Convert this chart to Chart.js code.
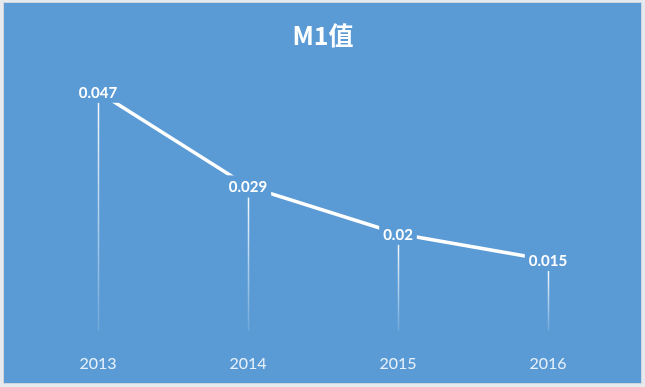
<!DOCTYPE html>
<html>
<head>
<meta charset="utf-8">
<script src="https://cdn.jsdelivr.net/npm/chart.js@4"></script>
<style>
  html, body { margin: 0; padding: 0; background: #e6e9ed; }
  #wrap {
    position: absolute; left: 3px; top: 2px;
    width: 637px; height: 380px;
    background: #5b9bd5;
    border: 1px solid #cfd6de;
  }
  #m1 { display: block; }
</style>
</head>
<body>
<div id="wrap"><canvas id="m1" width="637" height="380"></canvas></div>
<script>
var years = ['2013', '2014', '2015', '2016'];  // categories
var m1Values = [0.047, 0.029, 0.02, 0.015];  // M1值
var valueLabels = ['0.047', '0.029', '0.02', '0.015'];
var bgColor = '#5b9bd5';

// vertical fading drop lines from each point down to the axis
var dropLines = {
    id: 'dropLines',
    beforeDatasetsDraw: function (chart) {
        var ctx = chart.ctx;
        var meta = chart.getDatasetMeta(0);
        var yScale = chart.scales.y;
        var bottom = yScale.getPixelForValue(0) - 8;
        ctx.save();
        meta.data.forEach(function (pt) {
            var top = pt.y + 11;
            var grad = ctx.createLinearGradient(0, top, 0, bottom);
            grad.addColorStop(0, 'rgba(255,255,255,0.95)');
            grad.addColorStop(1, 'rgba(255,255,255,0.12)');
            ctx.strokeStyle = grad;
            ctx.lineWidth = 1.5;
            ctx.beginPath();
            ctx.moveTo(Math.round(pt.x) + 0.5, top);
            ctx.lineTo(Math.round(pt.x) + 0.5, bottom);
            ctx.stroke();
        });
        ctx.restore();
    }
};

// value labels on a box of background colour, centred on the points
var valueTags = {
    id: 'valueTags',
    afterDatasetsDraw: function (chart) {
        var ctx = chart.ctx;
        var meta = chart.getDatasetMeta(0);
        ctx.save();
        ctx.font = 'bold 15px Lato, "Open Sans", sans-serif';
        ctx.textAlign = 'center';
        ctx.textBaseline = 'middle';
        meta.data.forEach(function (pt, i) {
            var txt = valueLabels[i];
            var w = ctx.measureText(txt).width + 8;
            ctx.fillStyle = bgColor;
            ctx.fillRect(pt.x - w / 2, pt.y - 11, w, 22);
            ctx.fillStyle = '#ffffff';
            ctx.fillText(txt, pt.x, pt.y + 1);
        });
        ctx.restore();
    }
};

new Chart(document.getElementById('m1'), {
    type: 'line',
    data: {
        labels: years,
        datasets: [{
            label: 'M1值',
            data: m1Values,
            borderColor: '#ffffff',
            borderWidth: 3.5,
            pointRadius: 0,
            tension: 0,
            fill: false
        }]
    },
    options: {
        responsive: false,
        animation: false,
        layout: { padding: { left: 19, right: 18, top: 0, bottom: -5 } },
        plugins: {
            legend: { display: false },
            tooltip: { enabled: false },
            title: {
                display: true,
                text: 'M1值',
                color: '#ffffff',
                font: { size: 25, weight: 'bold', family: '"Noto Sans CJK SC", Lato, sans-serif' },
                padding: { top: 17, bottom: 26 }
            }
        },
        scales: {
            x: {
                offset: true,
                grid: { display: false, drawTicks: false },
                border: { display: false },
                ticks: {
                    color: 'rgba(255,255,255,0.85)',
                    font: { size: 16, family: 'Lato, "Open Sans", sans-serif' },
                    padding: 15
                }
            },
            y: {
                display: false,
                min: 0,
                max: 0.05
            }
        }
    },
    plugins: [dropLines, valueTags]
});
</script>
</body>
</html>
